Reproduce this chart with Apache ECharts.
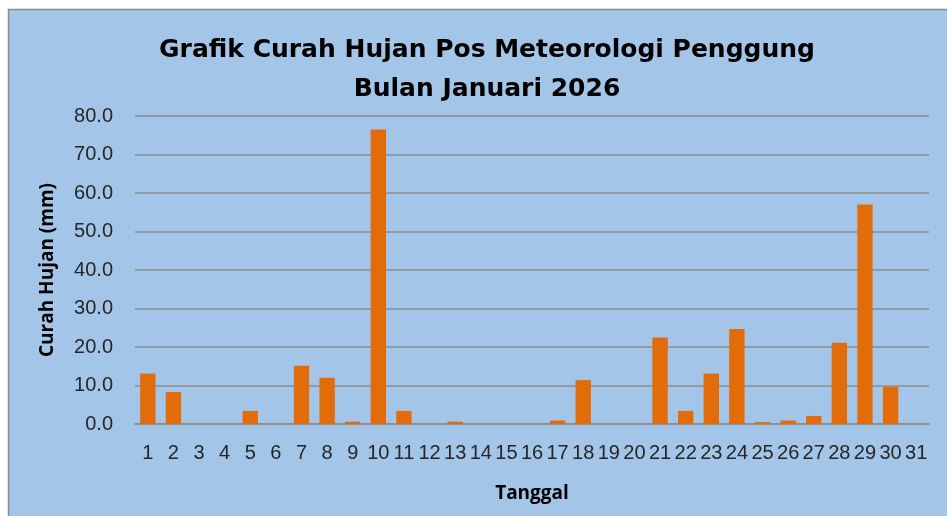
<!DOCTYPE html>
<html>
<head>
<meta charset="utf-8">
<script src="https://cdn.jsdelivr.net/npm/echarts@6/dist/echarts.min.js"></script>
<style>
  html, body { margin: 0; padding: 0; background: #ffffff; }
  #chart { width: 947px; height: 516px; }
</style>
</head>
<body>
<div id="chart"></div>
<script>
// tanggal 1..31
var tanggal = ['1','2','3','4','5','6','7','8','9','10','11','12','13','14','15','16',
  '17','18','19','20','21','22','23','24','25','26','27','28','29','30','31'];
// curah hujan (mm)
var curahHujan = [13.1, 8.3, 0, 0, 3.4, 0, 15.1, 12.0, 0.6, 76.5, 3.4, 0, 0.6, 0, 0, 0,
  0.9, 11.4, 0, 0, 22.5, 3.4, 13.1, 24.7, 0.5, 0.9, 2.1, 21.1, 57.0, 9.7, 0];
var yTicks = [0, 10, 20, 30, 40, 50, 60, 70, 80];

var myChart = echarts.init(document.getElementById('chart'));
var option;

option = {
  backgroundColor: '#ffffff',
  animation: false,
  graphic: [
    {
      type: 'rect',
      z: -10,
      shape: { x: 8.5, y: 9.5, width: 945, height: 510 },
      style: { fill: '#a3c6e8', stroke: '#8a8a8a', lineWidth: 1.5 },
      silent: true
    }
  ],
  title: {
    text: 'Grafik Curah Hujan Pos Meteorologi Penggung\nBulan Januari 2026',
    left: 482,
    top: 26,
    textAlign: 'center',
    textStyle: {
      fontFamily: 'DejaVu Sans',
      fontWeight: 'bold',
      fontSize: 25,
      color: '#000000',
      lineHeight: 39
    }
  },
  grid: {
    left: 135,
    right: 18,
    top: 116,
    bottom: 92
  },
  xAxis: {
    type: 'category',
    data: tanggal,
    name: 'Tanggal',
    nameLocation: 'middle',
    nameGap: 60,
    nameTextStyle: {
      fontFamily: 'Open Sans',
      fontWeight: 'bold',
      fontSize: 19,
      color: '#000000'
    },
    axisLine: { show: true, lineStyle: { color: '#8c8c8c', width: 1.5 } },
    axisTick: { show: false },
    axisLabel: {
      interval: 0,
      margin: 19,
      fontFamily: 'Liberation Sans',
      fontSize: 20,
      color: '#262626'
    }
  },
  yAxis: {
    type: 'value',
    min: 0,
    max: 80,
    interval: 10,
    name: 'Curah Hujan (mm)',
    nameLocation: 'middle',
    nameGap: 78,
    nameTextStyle: {
      fontFamily: 'Open Sans',
      fontWeight: 'bold',
      fontSize: 19,
      color: '#000000'
    },
    axisLine: { show: false },
    axisTick: { show: false },
    splitLine: { lineStyle: { color: '#8c8c8c', width: 1.5 } },
    axisLabel: {
      margin: 22,
      fontFamily: 'Liberation Sans',
      fontSize: 20,
      color: '#262626',
      formatter: function (v) { return v.toFixed(1); }
    }
  },
  series: [
    {
      name: 'Curah Hujan',
      type: 'bar',
      data: curahHujan,
      barWidth: '60%',
      itemStyle: {
        color: '#e36c0a'
      }
    }
  ]
};
option && myChart.setOption(option);
</script>
</body>
</html>
